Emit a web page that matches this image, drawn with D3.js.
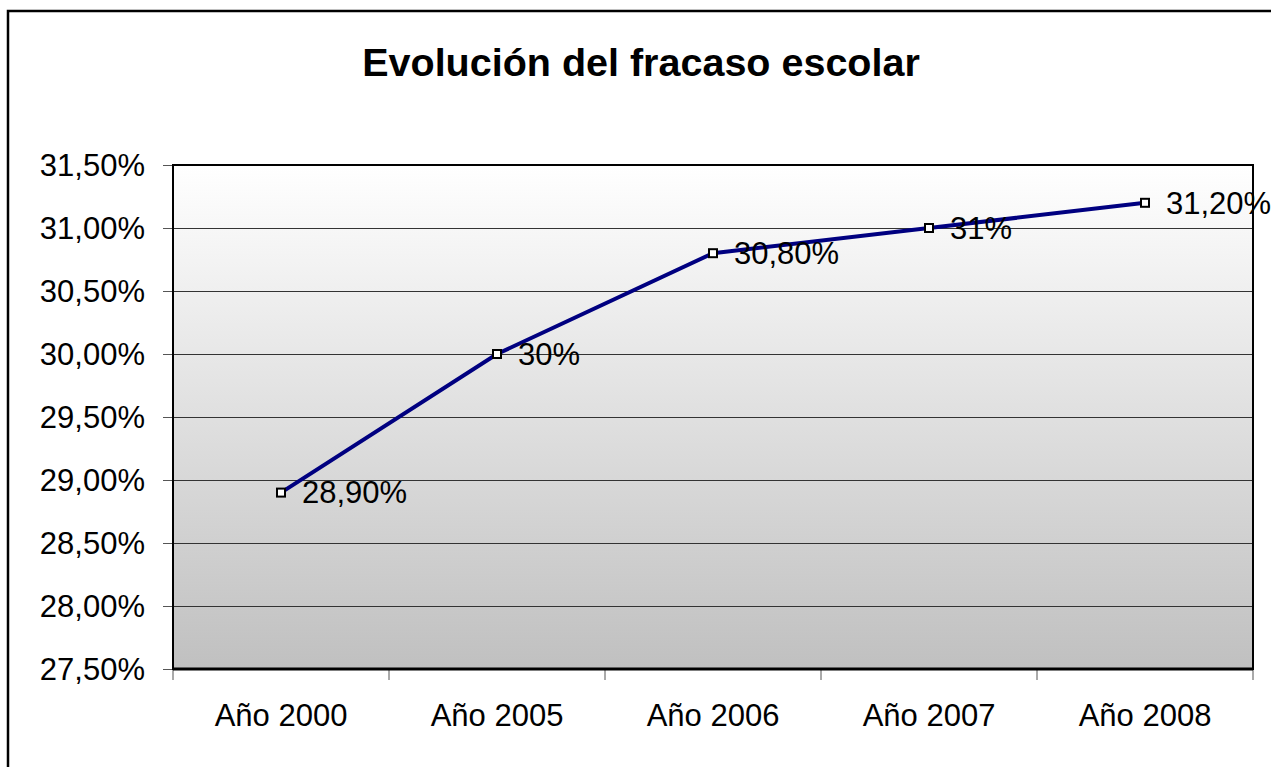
<!DOCTYPE html>
<head>
<meta charset="utf-8">
<script src="https://d3js.org/d3.v7.min.js"></script>
<style>
body { margin:0; background:#fff; }
svg text { font-family: "Liberation Sans", Arial, sans-serif; fill:#000; }
.grid line { stroke:#333; stroke-width:1; shape-rendering:crispEdges; }
</style>
</head>
<body>
<svg width=1271 height=767></svg>
<script>
// chart data
var categories = ["Año 2000", "Año 2005", "Año 2006", "Año 2007", "Año 2008"];
var values = [28.9, 30.0, 30.8, 31.0, 31.2];
var valueLabels = ["28,90%", "30%", "30,80%", "31%", "31,20%"];
var yTicks = [27.5, 28.0, 28.5, 29.0, 29.5, 30.0, 30.5, 31.0, 31.5];

var svg = d3.select("svg");
var plot = {left:173, top:165, right:1253, bottom:669};

// outer frame (right/bottom fall off the picture)
svg.append("rect")
  .attr("x", 8).attr("y", 11)
  .attr("width", 1300).attr("height", 800)
  .attr("fill", "#fff").attr("stroke", "#000").attr("stroke-width", 2.5);

var x = d3.scaleBand().domain(categories).range([plot.left, plot.right]);
var y = d3.scaleLinear().domain([27.5, 31.5]).range([plot.bottom, plot.top]);
var fmt = d => d.toFixed(2).replace(".", ",") + "%";

// gradient background
var grad = svg.append("defs").append("linearGradient")
  .attr("id", "bg").attr("x1", 0).attr("y1", 0).attr("x2", 0).attr("y2", 1);
grad.append("stop").attr("offset", "0%").attr("stop-color", "#ffffff");
grad.append("stop").attr("offset", "100%").attr("stop-color", "#c0c0c0");

svg.append("rect")
  .attr("x", plot.left).attr("y", plot.top)
  .attr("width", plot.right - plot.left).attr("height", plot.bottom - plot.top)
  .attr("fill", "url(#bg)");

// gridlines
svg.append("g").attr("class", "grid")
  .selectAll("line").data(yTicks.slice(1, -1)).join("line")
  .attr("x1", plot.left).attr("x2", plot.right)
  .attr("y1", d => Math.round(y(d)) + 0.5).attr("y2", d => Math.round(y(d)) + 0.5);

// y axis
var yAxis = svg.append("g")
  .attr("transform", "translate(" + plot.left + ",0)")
  .call(d3.axisLeft(y).tickValues(yTicks).tickFormat(fmt).tickSize(10).tickPadding(18));
yAxis.select(".domain").remove();
yAxis.selectAll("line").attr("stroke", "#555");
yAxis.selectAll("text").style("font-size", "31px").attr("dy", "0.35em");

// x axis
var xAxis = svg.append("g")
  .attr("transform", "translate(0," + plot.bottom + ")")
  .call(d3.axisBottom(x).tickSize(0).tickPadding(46));
xAxis.select(".domain").remove();
xAxis.selectAll("text").style("font-size", "31px").attr("dy", "0.35em");
svg.append("g").selectAll("line")
  .data(d3.range(categories.length + 1)).join("line")
  .attr("x1", i => plot.left + i * x.step()).attr("x2", i => plot.left + i * x.step())
  .attr("y1", plot.bottom).attr("y2", plot.bottom + 11)
  .attr("stroke", "#555");

// plot frame
svg.append("rect")
  .attr("x", plot.left).attr("y", plot.top)
  .attr("width", plot.right - plot.left).attr("height", plot.bottom - plot.top)
  .attr("fill", "none").attr("stroke", "#000").attr("stroke-width", 2);
svg.append("line")
  .attr("x1", plot.left).attr("x2", plot.right)
  .attr("y1", plot.bottom).attr("y2", plot.bottom)
  .attr("stroke", "#000").attr("stroke-width", 3);

// series
var pts = values.map((v, i) => ({cat: categories[i], v: v, lab: valueLabels[i]}));
var cx = d => x(d.cat) + x.bandwidth() / 2;

svg.append("path").datum(pts)
  .attr("fill", "none").attr("stroke", "#000080").attr("stroke-width", 4)
  .attr("d", d3.line().x(cx).y(d => y(d.v)));

svg.selectAll(".mk").data(pts).join("rect")
  .attr("class", "mk")
  .attr("x", d => cx(d) - 4).attr("y", d => y(d.v) - 4)
  .attr("width", 8).attr("height", 8)
  .attr("fill", "#fff").attr("stroke", "#000").attr("stroke-width", 2);

svg.selectAll(".lbl").data(pts).join("text")
  .attr("class", "lbl")
  .attr("x", d => cx(d) + 21).attr("y", d => y(d.v))
  .attr("dy", "0.35em")
  .style("font-size", "31px")
  .text(d => d.lab);

// title
svg.append("text")
  .attr("x", 641).attr("y", 76)
  .attr("text-anchor", "middle")
  .style("font-size", "39.5px").style("font-weight", "bold")
  .text("Evolución del fracaso escolar");
</script>
</body>
